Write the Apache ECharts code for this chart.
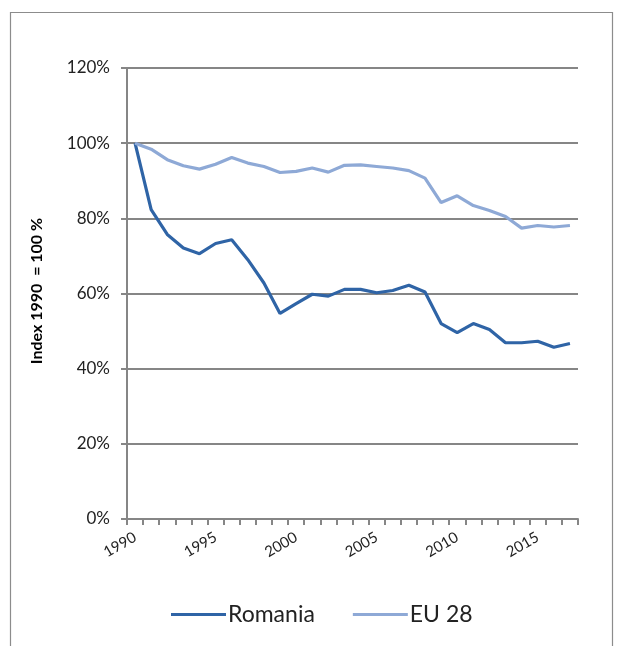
<!DOCTYPE html>
<html>
<head>
<meta charset="utf-8">
<script src="https://cdn.jsdelivr.net/npm/echarts@6/dist/echarts.min.js"></script>
<style>
html,body{margin:0;padding:0;background:#fff;}
#c{width:623px;height:646px;}
</style>
</head>
<body>
<div id="c"></div>
<script>
const years = ['1990','1991','1992','1993','1994','1995','1996','1997','1998','1999','2000','2001','2002','2003','2004','2005','2006','2007','2008','2009','2010','2011','2012','2013','2014','2015','2016','2017'];
const romania = [100,82.3,75.7,72.1,70.6,73.3,74.3,69.0,62.8,54.7,57.3,59.8,59.3,61.1,61.1,60.2,60.8,62.2,60.4,52.0,49.6,52.0,50.4,46.9,46.9,47.3,45.7,46.7];
const eu28 = [100,98.4,95.6,94.0,93.1,94.4,96.2,94.7,93.8,92.2,92.5,93.4,92.3,94.1,94.2,93.8,93.4,92.7,90.7,84.2,86.0,83.4,82.1,80.5,77.4,78.1,77.7,78.1];
const yTicks = [0,20,40,60,80,100,120];

const chart = echarts.init(document.getElementById('c'), null, {renderer:'canvas'});
const font = 'Lato, "Liberation Sans", sans-serif';
chart.setOption({
  animation:false,
  backgroundColor:'#fff',
  graphic:[{
    type:'rect', shape:{x:10.5,y:12.5,width:602,height:660},
    style:{fill:'none',stroke:'#8c8c8c',lineWidth:1.2}, silent:true
  },{
    type:'text', x:37, y:291, rotation:Math.PI/2,
    style:{text:'Index 1990  = 100 %', font:'bold 16px '+font, fill:'#000', align:'center', verticalAlign:'middle'}
  }],
  grid:{left:127,right:45,top:68,bottom:127},
  legend:{
    top:598, left:166,
    itemWidth:55, itemHeight:3, itemGap:38,
    icon:'rect',
    textStyle:{fontSize:23,color:'#222',fontFamily:font,padding:[0,0,0,-3]},
    data:['Romania','EU 28']
  },
  xAxis:{
    type:'category', data:years, boundaryGap:true,
    axisLine:{lineStyle:{color:'#868686',width:2}},
    axisTick:{show:true,interval:0,length:6,lineStyle:{color:'#868686',width:2}},
    axisLabel:{interval:4,rotate:30,fontSize:15,color:'#222',fontFamily:font,margin:17},
    splitLine:{show:false}
  },
  yAxis:{
    type:'value', min:yTicks[0], max:yTicks[yTicks.length-1], interval:20,
    axisLine:{show:true,lineStyle:{color:'#868686',width:2}},
    axisTick:{show:true,length:6,lineStyle:{color:'#868686',width:2}},
    axisLabel:{formatter:'{value}%',fontSize:17,color:'#222',fontFamily:font,margin:17},
    splitLine:{lineStyle:{color:'#868686',width:2}}
  },
  series:[
    {name:'Romania',type:'line',data:romania,symbol:'none',lineStyle:{color:'#2F64A6',width:3.2},itemStyle:{color:'#2F64A6'}},
    {name:'EU 28',type:'line',data:eu28,symbol:'none',lineStyle:{color:'#8EA9D6',width:3.2},itemStyle:{color:'#8EA9D6'}}
  ]
});
</script>
</body>
</html>
